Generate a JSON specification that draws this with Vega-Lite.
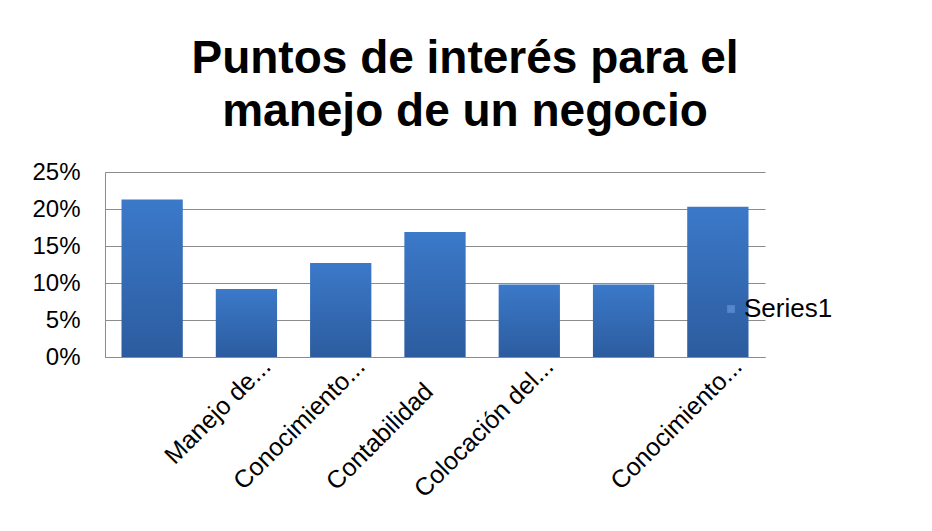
{
  "$schema": "https://vega.github.io/schema/vega-lite/v6.json",
  "autosize": {"type": "none"},
  "width": 660,
  "height": 185,
  "padding": {"left": 105, "top": 172, "right": 167, "bottom": 174},
  "background": "white",
  "title": {
    "text": ["Puntos de interés para el", "manejo de un negocio"],
    "font": "Liberation Sans",
    "fontSize": 46,
    "fontWeight": "bold",
    "lineHeight": 53,
    "color": "#000000",
    "anchor": "middle",
    "dx": 30,
    "offset": 24
  },
  "data": {
    "values": [
      {"categoria": " ", "valor": 0.213, "serie": "Series1"},
      {"categoria": "Manejo de...", "valor": 0.092, "serie": "Series1"},
      {"categoria": "Conocimiento...", "valor": 0.127, "serie": "Series1"},
      {"categoria": "Contabilidad", "valor": 0.169, "serie": "Series1"},
      {"categoria": "Colocación del...", "valor": 0.098, "serie": "Series1"},
      {"categoria": "  ", "valor": 0.098, "serie": "Series1"},
      {"categoria": "Conocimiento... ", "valor": 0.203, "serie": "Series1"}
    ]
  },
  "encoding": {
    "x": {
      "field": "categoria",
      "type": "nominal",
      "sort": null,
      "scale": {"paddingInner": 0.35, "paddingOuter": 0.175},
      "axis": {
        "title": null,
        "labelAngle": -45,
        "labelAlign": "right",
        "labelBaseline": "middle",
        "labelFont": "Liberation Sans",
        "labelFontSize": 25,
        "labelColor": "#000000",
        "labelOffset": {"condition": {"test": "datum.value == 'Contabilidad'", "value": -6}, "value": 20},
        "labelPadding": {"condition": {"test": "datum.value == 'Contabilidad'", "value": 30}, "value": 5},
        "ticks": false,
        "domain": true,
        "domainColor": "#8c8c8c",
        "labelOverlap": false,
        "labelLimit": 300
      }
    },
    "y": {
      "field": "valor",
      "type": "quantitative",
      "scale": {"domain": [0, 0.25], "nice": false},
      "axis": {
        "title": null,
        "format": ".0%",
        "values": [0, 0.05, 0.1, 0.15, 0.2, 0.25],
        "labelFont": "Liberation Sans",
        "labelFontSize": 24,
        "labelColor": "#000000",
        "labelPadding": 25,
        "ticks": false,
        "domain": true,
        "domainColor": "#8c8c8c",
        "grid": true,
        "gridColor": "#8c8c8c",
        "gridWidth": 1
      }
    }
  },
  "layer": [
    {
      "mark": {
        "type": "bar",
        "color": {
          "gradient": "linear",
          "x1": 0, "y1": 0, "x2": 0, "y2": 1,
          "stops": [
            {"offset": 0, "color": "#3b79c9"},
            {"offset": 1, "color": "#2c5c9f"}
          ]
        }
      }
    },
    {
      "mark": {"type": "point", "opacity": 0, "filled": true},
      "encoding": {
        "color": {
          "field": "serie",
          "type": "nominal",
          "scale": {"range": ["#5b8fd6"]},
          "legend": {
            "title": null,
            "orient": "none",
            "legendX": 613,
            "legendY": 124,
            "symbolType": "square",
            "symbolSize": 60,
            "symbolOpacity": 0.8,
            "symbolStrokeWidth": 0,
            "labelFont": "Liberation Sans",
            "labelFontSize": 26,
            "labelColor": "#000000",
            "labelOffset": 0
          }
        }
      }
    }
  ],
  "config": {
    "view": {"stroke": null}
  }
}
